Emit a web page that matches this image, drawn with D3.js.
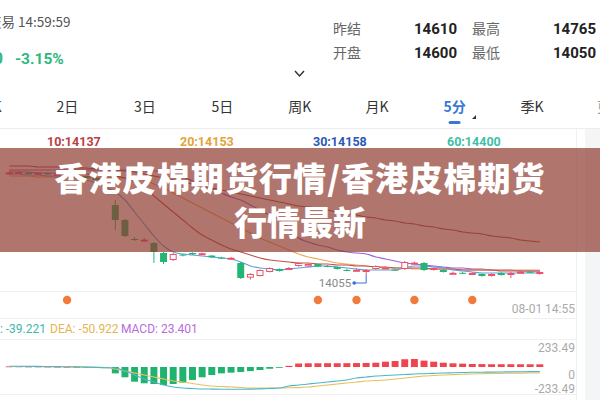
<!DOCTYPE html>
<html><head><meta charset="utf-8">
<script src="https://cdn.jsdelivr.net/npm/d3@7"></script>
<style>html,body{margin:0;padding:0;background:#fff;overflow:hidden}</style>
</head><body><svg id="c" width="600" height="400"></svg>
<script>
// ---------- data ----------
const quoteLabels = ["昨结", "最高", "开盘", "最低"];
const quoteValues = ["14610", "14765", "14600", "14050"];
const tabLabels = ["日K", "2日", "3日", "5日", "周K", "月K", "5分", "季K"];
const activeTab = "5分";
const maLabels = ["10:14137", "20:14153", "30:14158", "60:14400"];
const macdLabels = ["DIF: -39.221", "DEA: -50.922", "MACD: 23.401"];
const macdTicks = [233.49, 0, -233.49];
const titleLines = ["香港皮棉期货行情/香港皮棉期货", "行情最新"];

const candleOpen  = [14600,14603,14606,14602,14605,14598,14600,14590,14590,14580,14570,14445,14370,14275,14270,14255,14205,14170,14197,14205,14198,14192,14182,14180,14155,14082,14090,14110,14125,14128,14140,14138,14150,14140,14135,14120,14120,14118,14125,14128,14122,14125,14153,14155,14120,14120,14105,14106,14104,14100,14090,14105,14104,14108,14111,14100];
const candleClose = [14608,14610,14600,14606,14598,14602,14590,14585,14580,14570,14560,14370,14290,14270,14272,14210,14160,14200,14192,14198,14204,14184,14180,14181,14080,14100,14120,14130,14115,14130,14155,14150,14137,14139,14125,14119,14121,14120,14140,14133,14119,14160,14157,14120,14130,14110,14106,14105,14105,14090,14100,14095,14105,14111,14109,14110];
const candleHigh  = [14612,14614,14610,14609,14608,14606,14603,14594,14592,14584,14574,14470,14375,14285,14280,14260,14210,14205,14200,14208,14207,14195,14186,14185,14160,14104,14123,14133,14128,14135,14158,14153,14153,14145,14138,14126,14128,14125,14143,14137,14126,14165,14162,14160,14133,14123,14112,14110,14109,14103,14103,14108,14110,14114,14114,14113];
const candleLow   = [14597,14600,14597,14598,14595,14594,14587,14580,14576,14566,14555,14320,14285,14265,14262,14155,14150,14165,14188,14195,14195,14180,14176,14176,14075,14072,14088,14108,14112,14122,14137,14135,14134,14134,14122,14114,14112,14095,14122,14125,14115,14120,14148,14115,14117,14107,14100,14101,14100,14087,14087,14092,14080,14105,14106,14097];

const maBlue   = [14600,14600,14595,14595,14590,14590,14585,14580,14570,14555,14535,14510,14470,14410,14350,14290,14240,14210,14200,14195,14190,14185,14180,14175,14160,14140,14130,14125,14120,14125,14130,14135,14140,14140,14135,14130,14125,14120,14120,14120,14120,14130,14140,14140,14135,14130,14120,14115,14110,14105,14105,14105,14105,14105,14105,14105];
const maRed    = [14610,14610,14610,14605,14605,14605,14600,14600,14600,14595,14595,14590,14580,14560,14530,14490,14450,14410,14370,14330,14295,14270,14245,14225,14210,14195,14180,14170,14165,14160,14155,14155,14150,14150,14145,14145,14140,14140,14135,14135,14130,14130,14130,14130,14125,14125,14125,14120,14120,14120,14120,14115,14115,14115,14115,14115];
const maOrange = [14590,14590,14590,14585,14585,14585,14585,14580,14580,14580,14580,14580,14580,14575,14570,14550,14530,14505,14480,14455,14430,14405,14380,14355,14330,14305,14280,14260,14240,14220,14200,14185,14175,14165,14155,14150,14145,14140,14135,14130,14130,14130,14125,14125,14125,14125,14125,14120,14120,14120,14120,14120,14120,14120,14120,14120];
const maPurple = [14620,14620,14620,14620,14620,14620,14620,14620,14620,14620,14620,14620,14620,14620,14615,14615,14610,14600,14585,14565,14545,14525,14505,14485,14470,14445,14420,14395,14370,14330,14280,14260,14245,14235,14220,14210,14205,14200,14185,14175,14165,14155,14150,14145,14140,14135,14130,14130,14125,14125,14120,14120,14120,14115,14115,14115];
const maLong   = [14640,14640,14640,14635,14635,14635,14630,14630,14630,14625,14625,14620,14615,14610,14600,14590,14580,14570,14560,14550,14540,14530,14520,14510,14500,14490,14480,14470,14460,14450,14440,14435,14430,14420,14410,14405,14395,14385,14380,14370,14365,14355,14350,14340,14335,14325,14320,14310,14305,14300,14290,14285,14280,14270,14265,14260];

const macdDif  = [6,6,5,5,4,3,2,1,-1,-3,-6,-9,-35,-69,-104,-130,-156,-173,-182,-186,-190,-191,-192,-192,-192,-191,-189,-186,-182,-164,-156,-147,-138,-130,-121,-112,-95,-87,-78,-74,-69,-65,-61,-58,-55,-52,-50,-48,-46,-45,-44,-43,-42,-41,-40,-39.221];
const macdDea  = [4,4,4,4,3,3,2,1,0,-2,-4,-17,-35,-52,-69,-87,-104,-121,-130,-143,-156,-164,-169,-173,-177,-182,-182,-182,-181,-180,-178,-173,-164,-156,-147,-138,-130,-121,-117,-112,-104,-95,-87,-78,-74,-69,-66,-63,-60,-58,-56,-55,-54,-53,-52,-50.922];
const macdHist = [5,5,4,4,3,2,1,0,-2,-5,-10,-55,-89,-127,-141,-147,-156,-147,-136,-112,-89,-69,-55,-49,-43,-35,-26,-15,-5,10,30,32,32,33,33,33,34,35,37,46,52,67,69,55,46,37,32,29,26,25,24,24,24,23.5,23.4,23.401];

const signalIdx = [6, 32, 36, 42, 48];
const lowIdx = 37, lowLabel = "14055";
const lastTime = "08-01 14:55";

// ---------- drawing ----------
const svg = d3.select("#c");
const CJK = "'Noto Sans CJK SC','Noto Sans',sans-serif";
const NUM = "Roboto,'Noto Sans',sans-serif";
svg.append("rect").attr("width",600).attr("height",400).attr("fill","#fff");

// header
svg.append("text").attr("x",-12).attr("y",27).attr("font-family",CJK).attr("font-size",13.5).attr("fill","#555").text("交易 14:59:59");
svg.append("text").attr("x",3).attr("y",64).attr("text-anchor","end").attr("font-family",NUM).attr("font-size",16).attr("font-weight","bold").attr("fill","#2db87d").text("-460");
svg.append("text").attr("x",15).attr("y",64).attr("font-family",NUM).attr("font-size",15.5).attr("font-weight","bold").attr("fill","#2db87d").text("-3.15%");

const qx = [333, 472], vx = [457, 596], qy = [34, 58];
quoteLabels.forEach((l,i)=>{
  const c = i%2, r = Math.floor(i/2);
  svg.append("text").attr("x",qx[c]).attr("y",qy[r]).attr("font-family",CJK).attr("font-size",14).attr("fill","#666").text(l);
  svg.append("text").attr("x",vx[c]).attr("y",qy[r]).attr("text-anchor","end").attr("font-family",NUM).attr("font-size",15).attr("font-weight","bold").attr("fill","#222").text(quoteValues[i]);
});
svg.append("path").attr("d","M295,71 L299.5,76 L304,71").attr("fill","none").attr("stroke","#333").attr("stroke-width",1.5);

// tabs
const tabX = d3.scalePoint().domain(tabLabels).range([-10,532]);
tabLabels.forEach(t=>{
  const on = t===activeTab;
  svg.append("text").attr("x",tabX(t)).attr("y",112).attr("text-anchor","middle").attr("font-family",CJK)
    .attr("font-size",14).attr("font-weight",on?"bold":"normal").attr("fill",on?"#3778d6":"#333").text(t);
});
svg.append("text").attr("x",604).attr("y",112).attr("text-anchor","middle").attr("font-family",CJK).attr("font-size",14).attr("fill","#999").text("更");
svg.append("rect").attr("x",tabX(activeTab)-6).attr("y",121).attr("width",12).attr("height",3).attr("rx",1.5).attr("fill","#3778d6");
svg.append("path").attr("d","M476,115 L476,119 L472,119 Z").attr("fill","#333");
svg.append("line").attr("x1",0).attr("x2",600).attr("y1",128.5).attr("y2",128.5).attr("stroke","#ececec");

// right panel
svg.append("rect").attr("x",585).attr("y",129).attr("width",15).attr("height",271).attr("fill","#f4f5f7");
svg.append("line").attr("x1",576.5).attr("x2",576.5).attr("y1",129).attr("y2",400).attr("stroke","#f0f0f0");

// MA legend
const maColors = ["#b8413f","#e3a338","#2a58b8","#3fbfa5"];
const maLX = [47,180,313,447];
maLabels.forEach((t,i)=>svg.append("text").attr("x",maLX[i]).attr("y",146).attr("font-family",NUM).attr("font-size",12.5).attr("font-weight","bold").attr("fill",maColors[i]).text(t));

// scales
const idx = d3.range(candleOpen.length);
const x = d3.scaleBand().domain(idx).range([3,546]).padding(0.28);
const cx = i => x(i)+x.bandwidth()/2;
const y = d3.scaleLinear().domain([14050,14600]).range([284,174]);

// grid lines
[291.5, 318.5, 339.5, 394.5].forEach(g=>svg.append("line").attr("x1",0).attr("x2",576).attr("y1",g).attr("y2",g).attr("stroke","#f0f0f0"));

// MA lines
const lineGen = arr => d3.line().x((d,i)=>cx(i)).y(d=>y(d)).curve(d3.curveMonotoneX)(arr);
[[maLong,"#b04a48"],[maPurple,"#9a5fd8"],[maOrange,"#f2a45a"],[maRed,"#c0504a"],[maBlue,"#5a9ee0"]].forEach(([a,c])=>
  svg.append("path").attr("d",lineGen(a)).attr("fill","none").attr("stroke",c).attr("stroke-width",1.1));

// candles
const UP="#ef5168", DN="#22b573";
const g = svg.append("g");
idx.forEach(i=>{
  const o=candleOpen[i], c=candleClose[i], up=c>=o, col=up?UP:DN;
  g.append("line").attr("x1",cx(i)).attr("x2",cx(i)).attr("y1",y(candleHigh[i])).attr("y2",y(candleLow[i])).attr("stroke",col).attr("stroke-width",1);
  const top=y(Math.max(o,c)), h=Math.max(1,Math.abs(y(o)-y(c)));
  g.append("rect").attr("x",x(i)+(up?0.5:0)).attr("y",top+(up?0.5:0)).attr("width",x.bandwidth()-(up?1:0)).attr("height",up?Math.max(1,h-1):h)
    .attr("fill",up?"#fff":col).attr("stroke",up?col:"none").attr("stroke-width",1);
});

// low marker
const lx = cx(lowIdx), ly = y(candleLow[lowIdx]);
svg.append("path").attr("d",`M${lx},${ly} L${lx},${ly+8} L${lx-12},${ly+8}`).attr("fill","none").attr("stroke","#3b6fd1").attr("stroke-width",1);
svg.append("circle").attr("cx",lx-12).attr("cy",ly+8).attr("r",1.8).attr("fill","#3b6fd1");
svg.append("text").attr("x",lx-15).attr("y",ly+12).attr("text-anchor","end").attr("font-family",NUM).attr("font-size",11.5).attr("fill","#888").text(lowLabel);

// signals
signalIdx.forEach(i=>svg.append("circle").attr("cx",cx(i)).attr("cy",300).attr("r",4.2).attr("fill","#f27a3a"));
svg.append("text").attr("x",575).attr("y",313).attr("text-anchor","end").attr("font-family",NUM).attr("font-size",12).attr("fill","#aaa").text(lastTime);

// MACD legend
const macdColors = ["#3fb8a8","#e5b552","#b86ae0"];
const mlX = [46,50,121];
macdLabels.forEach((t,i)=>svg.append("text").attr("x",mlX[i]).attr("y",333).attr("text-anchor",i===0?"end":"start").attr("font-family",NUM).attr("font-size",12).attr("fill",macdColors[i]).text(t));

// MACD
const ym = d3.scaleLinear().domain([-233.49,233.49]).range([394,340]);
idx.forEach(i=>{
  const v=macdHist[i];
  svg.append("rect").attr("x",x(i)).attr("width",x.bandwidth()).attr("y",Math.min(ym(v),ym(0))).attr("height",Math.max(0.8,Math.abs(ym(v)-ym(0))))
    .attr("fill",v>=0?"#f0444f":"#1fb36f");
});
const mline = arr => d3.line().x((d,i)=>cx(i)).y(d=>ym(d)).curve(d3.curveMonotoneX)(arr);
svg.append("path").attr("d",mline(macdDea)).attr("fill","none").attr("stroke","#e8c060").attr("stroke-width",1.1);
svg.append("path").attr("d",mline(macdDif)).attr("fill","none").attr("stroke","#4db6c8").attr("stroke-width",1.1);
const tickY = [352, 379, 393];
macdTicks.forEach((t,i)=>svg.append("text").attr("x",575).attr("y",tickY[i]).attr("text-anchor","end").attr("font-family",NUM).attr("font-size",12).attr("fill","#aaa").text(t));

// overlay band + title
svg.append("rect").attr("x",0).attr("y",148).attr("width",600).attr("height",104).attr("fill","#8f3a2f").attr("opacity",0.7);
titleLines.forEach((t,i)=>svg.append("text").attr("x",300).attr("y",[191,235][i]).attr("text-anchor","middle")
  .attr("font-family",CJK).attr("font-size",33).attr("letter-spacing",i===0?1.1:0).attr("font-weight","900").attr("fill","#fff").text(t));
</script></body></html>
